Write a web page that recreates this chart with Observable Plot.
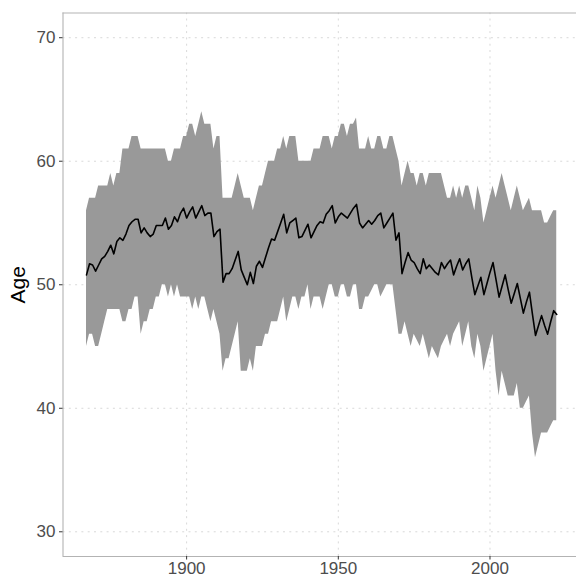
<!DOCTYPE html>
<html>
<head>
<meta charset="utf-8">
<script src="https://cdn.jsdelivr.net/npm/d3@7"></script>
<script src="https://cdn.jsdelivr.net/npm/@observablehq/plot@0.6"></script>
<style>
  html, body { margin: 0; padding: 0; background: #ffffff; }
  #chart svg { display: block; }
  #chart g[aria-label="x-axis tick label"] text,
  #chart g[aria-label="y-axis tick label"] text { fill: #4d4d4d; }
</style>
</head>
<body>
<div id="chart"></div>
<script>
// ---- data (annual) ----
const firstYear = 1867;
const lastYear = 2022;
const xTicks = [1900, 1950, 2000];
const yTicks = [30, 40, 50, 60, 70];
const yLabel = "Age";

const meanAge = [
  50.8, 51.7, 51.6,
  51.1, 51.6, 52.1, 52.3, 52.7, 53.2, 52.5, 53.5, 53.8, 53.6,
  54.1, 54.8, 55.1, 55.3, 55.3, 54.2, 54.6, 54.2, 53.9, 54.1,
  54.8, 54.8, 54.8, 55.4, 54.5, 54.8, 55.5, 55.1, 55.8, 56.2,
  55.4, 55.9, 56.3, 55.4, 55.9, 56.4, 55.6, 55.8, 55.8, 53.9,
  54.3, 54.5, 50.2, 50.9, 50.9, 51.3, 52.0, 52.7, 51.2, 50.6,
  50.0, 51.0, 50.1, 51.5, 51.9, 51.4, 52.2, 53.0, 53.7, 53.6,
  54.3, 55.0, 55.7, 54.2, 55.0, 55.2, 55.4, 53.8, 53.9, 54.4,
  54.9, 53.8, 54.3, 54.8, 55.1, 55.0, 55.7, 56.0, 56.4, 55.0,
  55.5, 55.8, 55.6, 55.4, 55.8, 56.2, 56.5, 55.0, 54.6, 54.9,
  55.2, 54.9, 55.2, 55.6, 55.8, 54.6, 55.0, 55.4, 55.8, 53.6,
  54.2, 50.9, 51.8, 52.6, 52.0, 51.8, 51.3, 50.9, 52.1, 51.3,
  51.6, 51.3, 51.0, 50.8, 51.8, 51.3, 51.7, 52.0, 50.8, 51.5,
  52.1, 51.2, 51.7, 52.1, 50.6, 49.2, 49.9, 50.6, 49.2, 50.1,
  51.0, 51.8, 50.4, 49.0, 49.9, 50.8, 49.6, 48.5, 49.3, 50.1,
  48.9, 47.7, 48.6, 49.4, 47.6, 45.9, 46.7, 47.5, 46.7, 46.0,
  47.0, 47.9, 47.6
];

const upperAge = [
  56, 57, 57,
  57, 58, 58, 58, 58, 59, 58, 59, 59, 61,
  61, 61, 62, 62, 62, 61, 61, 61, 61, 61,
  61, 61, 61, 61, 60, 60, 61, 61, 61, 62,
  62, 63, 63, 62, 63, 64, 63, 63, 63, 61,
  62, 62, 57, 57, 57, 57, 58, 59, 58, 57,
  57, 57, 56, 57, 58, 58, 59, 60, 60, 60,
  61, 61, 62, 61, 62, 62, 62, 60, 60, 60,
  60, 60, 61, 61, 61, 62, 62, 62, 61, 62,
  62, 63, 63, 62, 63, 63, 63.5, 61, 61, 61,
  62, 61, 61, 62, 62, 61, 61, 62, 62, 61,
  60, 58, 59, 60, 59, 59, 58, 59, 59, 58,
  59, 59, 59, 59, 59, 58, 57, 57, 58, 57,
  58, 57, 58, 58, 57, 56, 58, 57, 55, 56,
  57, 58, 57, 58, 59, 58, 57, 56, 57, 58,
  57, 56, 56.5, 57, 56, 56, 56, 56, 55, 55,
  55.5, 56, 56
];

const lowerAge = [
  45, 46, 46,
  45, 45, 46, 47, 48, 48, 48, 48, 48, 47,
  47, 48, 48, 49, 49, 46, 47, 47, 48, 48,
  49, 49, 50, 50, 49, 50, 49, 50, 49, 49,
  49, 49, 48, 49, 48, 49, 49, 48, 47, 48,
  47, 46, 43, 44, 44, 45, 46, 47, 43, 43,
  43, 44, 43, 45, 45, 45, 46, 46, 47, 47,
  47, 48, 49, 47, 48, 49, 49, 48, 49, 49,
  50, 48, 49, 49, 49, 48, 49, 50, 50, 49,
  49, 50, 50, 49, 49, 50, 50, 48, 48, 49,
  49, 49.5, 50, 50, 49, 49.5, 50, 50, 50, 48,
  46, 46, 47, 46, 45, 46, 45.5, 45, 46, 45,
  44, 45, 44.5, 44, 45, 45.5, 46, 45, 46, 46.5,
  47, 45, 46, 47, 45, 44, 46, 45, 43, 44,
  45, 46, 43, 41, 43, 42, 41, 41, 41, 42,
  40, 40, 40.5, 41, 38, 36, 37, 38, 38, 38,
  38.5, 39, 39
];

const years = d3.range(firstYear, lastYear + 1);
const rows = years.map((year, i) => ({
  year,
  mean: meanAge[i],
  upper: upperAge[i],
  lower: lowerAge[i]
}));

// expanded domains like ggplot (5% on x, fixed 30-70 limits with 5% on y)
const xSpan = lastYear - firstYear;
const xDomain = [firstYear - 0.05 * xSpan, lastYear + 0.05 * xSpan];
const yDomain = [28, 72];

const W = 576, H = 578;
const padLeft = 62.5, padTop = 12.5, panelBottom = 556;
const xRight = padLeft + (xDomain[1] - xDomain[0]) * 3.0337;

const gridStyle = { stroke: "#d9d9d9", strokeWidth: 1, strokeDasharray: "2,4.3" };

const chart = Plot.plot({
  width: W,
  height: H,
  marginLeft: padLeft,
  marginTop: padTop,
  marginBottom: H - panelBottom,
  marginRight: 0,
  style: { fontFamily: "'Liberation Sans', Arial, Helvetica, sans-serif", background: "#ffffff", overflow: "hidden" },
  x: { domain: xDomain, range: [padLeft, xRight] },
  y: { domain: yDomain, range: [panelBottom, padTop] },
  marks: [
    Plot.ruleX(xTicks, { x: d => d, y1: yDomain[0], y2: yDomain[1], ...gridStyle }),
    Plot.ruleY(yTicks, { y: d => d, x1: xDomain[0], x2: xDomain[1], ...gridStyle }),
    Plot.areaY(rows, { x: "year", y1: "lower", y2: "upper", fill: "#999999", fillOpacity: 1, curve: "linear" }),
    Plot.lineY(rows, { x: "year", y: "mean", stroke: "#000000", strokeWidth: 1.6, curve: "linear" }),
    Plot.ruleX([xDomain[0]], { x: d => d, y1: yDomain[0], y2: yDomain[1], stroke: "#b3b3b3", strokeWidth: 1.1 }),
    Plot.ruleY([yDomain[0], yDomain[1]], { y: d => d, x1: xDomain[0], x2: xDomain[1], stroke: "#b3b3b3", strokeWidth: 1.1 }),
    Plot.axisX(xTicks, { tickSize: 3.5, tickPadding: 2, fontSize: 17, stroke: "#333333", label: null, tickFormat: d => String(d) }),
    Plot.axisY(yTicks, { tickSize: 3.5, tickPadding: 4, fontSize: 17, stroke: "#333333", label: null }),
    Plot.text([yLabel], { text: d => d, frameAnchor: "left", dx: -(padLeft - 18), rotate: -90, fontSize: 21, fill: "#000000", textAnchor: "middle", lineAnchor: "middle" })
  ]
});

document.getElementById("chart").appendChild(chart);
</script>
</body>
</html>
